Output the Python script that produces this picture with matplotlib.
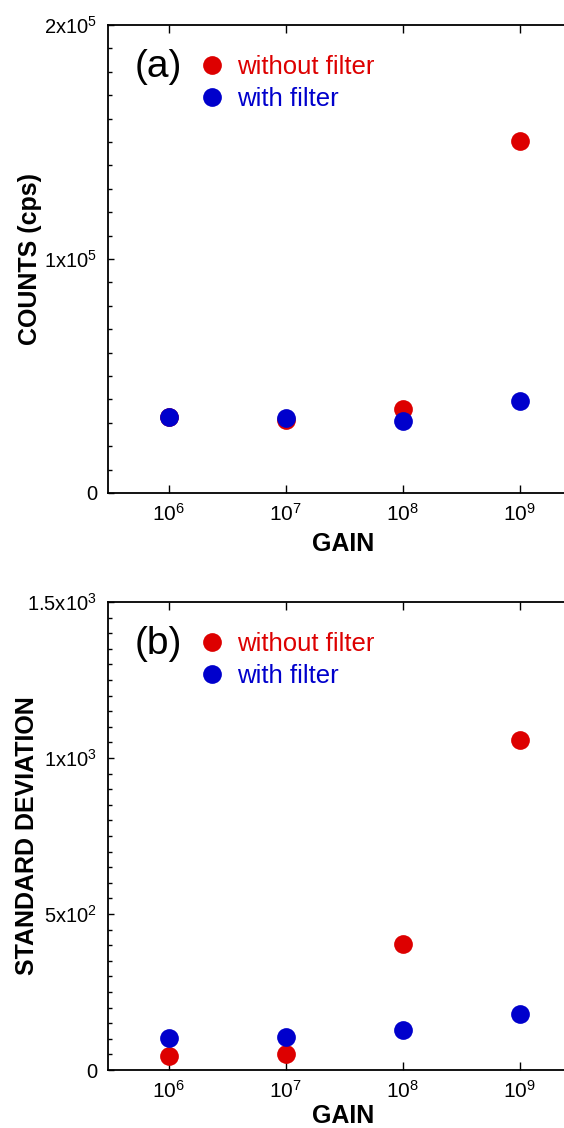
import matplotlib
matplotlib.use("Agg")
import matplotlib.pyplot as plt
from matplotlib.ticker import FixedLocator, MultipleLocator, NullLocator

plt.rcParams['font.family'] = ['Liberation Sans', 'DejaVu Sans']
plt.rcParams['mathtext.fontset'] = 'custom'
plt.rcParams['mathtext.rm'] = 'Liberation Sans'
plt.rcParams['mathtext.it'] = 'Liberation Sans:italic'
plt.rcParams['mathtext.bf'] = 'Liberation Sans:bold'

# ---- data ----
gain = [1e6, 1e7, 1e8, 1e9]
gain_labels = [r'$\mathregular{10^6}$', r'$\mathregular{10^7}$',
               r'$\mathregular{10^8}$', r'$\mathregular{10^9}$']

counts_without = [32500, 31200, 35800, 150400]
counts_with = [32400, 31900, 30800, 39300]
counts_ticks = [0, 1e5, 2e5]
counts_ticklabels = ['0', r'$\mathregular{1x10^5}$', r'$\mathregular{2x10^5}$']

std_without = [45, 51, 404, 1058]
std_with = [101, 107, 128, 180]
std_ticks = [0, 500, 1000, 1500]
std_ticklabels = ['0', r'$\mathregular{5x10^2}$', r'$\mathregular{1x10^3}$',
                  r'$\mathregular{1.5x10^3}$']

RED = '#dd0000'
BLUE = '#0000cc'

fig = plt.figure(figsize=(5.64, 11.28), dpi=100)
ax1 = fig.add_axes([108/564, 1-493/1128, 470/564, 468/1128])
ax2 = fig.add_axes([108/564, 1-1070/1128, 470/564, 468/1128])


def style(ax, yticks, ylabels, ymax, yminor, ylabel, panel, xlabelpad):
    ax.set_xscale('log')
    ax.set_xlim(10**5.48, 10**9.5)
    ax.set_ylim(0, ymax)
    ax.xaxis.set_major_locator(FixedLocator(gain))
    ax.set_xticklabels(gain_labels)
    ax.xaxis.set_minor_locator(NullLocator())
    ax.set_yticks(yticks)
    ax.set_yticklabels(ylabels)
    ax.yaxis.set_minor_locator(MultipleLocator(yminor))
    ax.spines['right'].set_visible(False)
    for s in ['left', 'bottom', 'top']:
        ax.spines[s].set_linewidth(1.3)
    ax.tick_params(axis='x', which='major', direction='in', top=True, bottom=True,
                   length=6, width=1.0, labelsize=15, pad=7)
    ax.tick_params(axis='y', which='major', direction='in', left=True, right=False,
                   length=4.5, width=1.0, labelsize=14.5, pad=8)
    ax.tick_params(axis='y', which='minor', direction='in', left=True, right=False,
                   length=3, width=1.0)
    ax.set_xlabel('GAIN', fontsize=18, fontweight='bold', labelpad=xlabelpad)
    ax.set_ylabel(ylabel, fontsize=18, fontweight='bold')
    ax.text(0.106, 0.91, panel, transform=ax.transAxes, fontsize=28,
            ha='center', va='center')


style(ax1, counts_ticks, counts_ticklabels, 2e5, 1e4, 'COUNTS (cps)', '(a)', 5)
style(ax2, std_ticks, std_ticklabels, 1500, 50, 'STANDARD DEVIATION', '(b)', 2)

for ax, yw, yf in [(ax1, counts_without, counts_with), (ax2, std_without, std_with)]:
    ax.plot(gain, yw, 'o', color=RED, markersize=13.5, markeredgewidth=0,
            label='without filter', zorder=3)
    ax.plot(gain, yf, 'o', color=BLUE, markersize=13.5, markeredgewidth=0,
            label='with filter', zorder=4)
    leg = ax.legend(loc='upper left', bbox_to_anchor=(0.195, 0.936), frameon=False,
                    fontsize=18.5, handlelength=1.0, handletextpad=0.45,
                    labelspacing=0.32, borderaxespad=0, borderpad=0)
    for t, c in zip(leg.get_texts(), [RED, BLUE]):
        t.set_color(c)

ax1.yaxis.set_label_coords(-0.14, 0.5)
ax2.yaxis.set_label_coords(-0.147, 0.5)

fig.savefig('out.png', dpi=100)
